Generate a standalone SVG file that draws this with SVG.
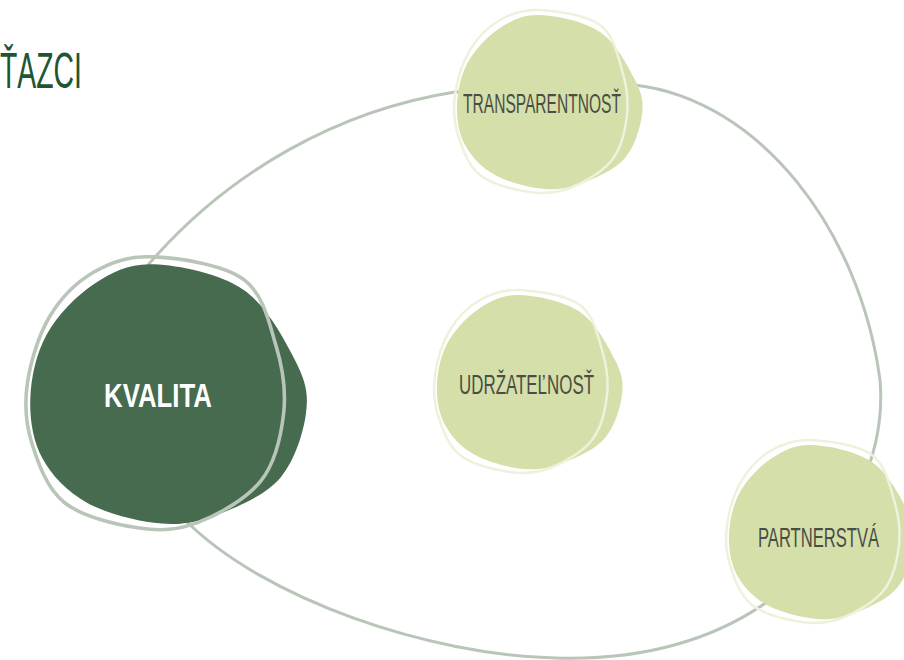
<svg xmlns="http://www.w3.org/2000/svg" xmlns:xlink="http://www.w3.org/1999/xlink" width="904" height="660" viewBox="0 0 904 660">
<style>
.loop{fill:none;stroke:#b8c5b8;stroke-width:3}
.lf{fill:#d5dfa9}
.lr{fill:none;stroke:#eef2dc;stroke-width:2.5}
.df{fill:#476b4f}
.dr{fill:none;stroke:#b9c5b9;stroke-width:2.4}
.lbl{font-family:"Liberation Sans",Arial,sans-serif;font-size:27px;fill:#4a4d45;text-anchor:start}
.klbl{font-family:"Liberation Sans",Arial,sans-serif;font-size:33px;font-weight:bold;fill:#ffffff}
.title{font-family:"Liberation Sans",Arial,sans-serif;font-size:50px;fill:#1f5530}
</style>
<defs>
<path id="blob" d="M0,-85 C16.7,-84.3 44.2,-78.8 60,-68 C75.8,-57.2 88,-33.8 95,-20 C102,-6.2 103.7,2 102,15 C100.3,28 94.5,46.8 85,58 C75.5,69.2 58.3,76.8 45,82 C31.7,87.2 20,90.2 5,89 C-10,87.8 -31.7,82.3 -45,75 C-58.3,67.7 -68.7,56.7 -75,45 C-81.3,33.3 -83.5,18.8 -83,5 C-82.5,-8.8 -79.2,-25.2 -72,-38 C-64.8,-50.8 -52,-64.2 -40,-72 C-28,-79.8 -16.7,-85.7 0,-85 Z"/>
<path id="ring" d="M0,-90 C16.7,-89.2 46.3,-85 60,-75 C73.7,-65 77.5,-45 82,-30 C86.5,-15 88.7,0 87,15 C85.3,30 81.5,47.8 72,60 C62.5,72.2 43.7,82.7 30,88 C16.3,93.3 5,94.2 -10,92 C-25,89.8 -48,84.5 -60,75 C-72,65.5 -77.8,48.3 -82,35 C-86.2,21.7 -87,9.2 -85,-5 C-83,-19.2 -77.5,-37.5 -70,-50 C-62.5,-62.5 -51.7,-73.3 -40,-80 C-28.3,-86.7 -16.7,-90.8 0,-90 Z"/>
</defs>
<rect width="904" height="660" fill="#ffffff"/>
<text class="title" x="0" y="88" textLength="82" lengthAdjust="spacingAndGlyphs">ŤAZCI</text>
<g id="connectors">
<path class="loop" d="M148,265 C230,170 340,110 455,92 L635,85 C760,100 860,230 880,380 C886,450 855,530 770,600 C700,650 620,660 555,658 C430,655 265,600 185,520 Z"/>
</g>
<g id="node-transparentnost" transform="translate(540,100)">
<use href="#blob" class="lf"/>
<use href="#ring" class="lr"/>
<text class="lbl" x="-77" y="13" textLength="158" lengthAdjust="spacingAndGlyphs">TRANSPARENTNOSŤ</text>
</g>
<g id="node-udrzatelnost" transform="translate(520,380)">
<use href="#blob" class="lf"/>
<use href="#ring" class="lr"/>
<text class="lbl" x="-61" y="14" textLength="135" lengthAdjust="spacingAndGlyphs">UDRŽATEĽNOSŤ</text>
</g>
<g id="node-partnerstva" transform="translate(812,530)">
<use href="#blob" class="lf"/>
<use href="#ring" class="lr"/>
<text class="lbl" transform="translate(-54,17) scale(0.606,1)" x="0" y="0" textLength="199.7" lengthAdjust="spacingAndGlyphs">PARTNERSTVÁ</text>
</g>
<g id="node-kvalita">
<g transform="translate(154,391) scale(1.49)">
<use href="#blob" class="df"/>
<use href="#ring" class="dr"/>
</g>
<text class="klbl" x="104" y="407" textLength="108" lengthAdjust="spacingAndGlyphs">KVALITA</text>
</g>
</svg>
